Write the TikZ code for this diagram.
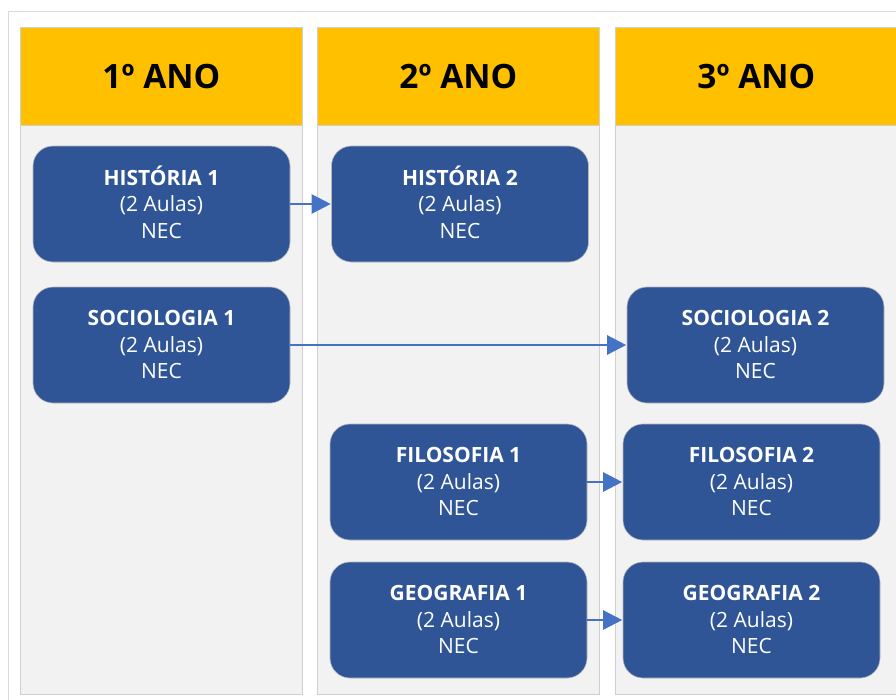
\documentclass[tikz,border=0pt]{standalone}
\usepackage{fontspec}
\setmainfont{Open Sans}
\usetikzlibrary{arrows.meta}
\definecolor{hdryellow}{HTML}{FFC000}
\definecolor{subjblue}{HTML}{2F5597}
\definecolor{linkblue}{HTML}{4472C4}
\definecolor{colfill}{HTML}{F2F2F2}
\definecolor{colline}{HTML}{CFCFCF}
\definecolor{frameline}{HTML}{D9D9D9}
% subject label: bold name, lesson count, group (nudged down, keeping the box size)
\newcommand{\subjlabel}[1]{\raisebox{-2pt}[\height][\depth]{\begin{tabular}{@{}c@{}}\textbf{#1}\\(2 Aulas)\\NEC\end{tabular}}}
\tikzset{
  colbody/.style={draw=colline, fill=colfill, line width=0.8pt, anchor=north west, inner sep=0pt},
  colhead/.style={draw=colline, fill=hdryellow, line width=0.8pt, anchor=north west, inner sep=0pt,
    font=\fontsize{33.5}{38}\selectfont\bfseries, text=black},
  subj/.style={draw=gray!55, fill=subjblue, line width=0.6pt, rounded corners=20pt,
    minimum width=257pt, minimum height=116pt, inner sep=0pt, text=white,
    font=\fontsize{21}{26.5}\selectfont},
  link/.style={draw=linkblue, line width=2.4pt, -{Triangle[length=19pt,width=19pt]}, shorten >=0.5pt}
}
\begin{document}
\begin{tikzpicture}[x=1pt, y=-1pt]
  \useasboundingbox (0,0) rectangle (896,699);
  \clip (0,0) rectangle (896,699);
  % outer frame
  \draw[frameline, line width=1pt] (8,11) rectangle (910,710);
  % year columns
  \node[colbody, minimum width=282pt, minimum height=569pt] (b1) at (20,125) {};
  \node[colbody, minimum width=282pt, minimum height=569pt] (b2) at (317,125) {};
  \node[colbody, minimum width=290pt, minimum height=569pt] (b3) at (615,125) {};
  \node[colhead, minimum width=282pt, minimum height=98pt] (h1) at (20,27) {1º ANO};
  \node[colhead, minimum width=282pt, minimum height=98pt] (h2) at (317,27) {2º ANO};
  \node[colhead, minimum width=282pt, minimum height=98pt] (h3) at (615,27) {3º ANO};
  % subjects
  \node[subj] (hist1) at (161.5,204) {\subjlabel{HISTÓRIA 1}};
  \node[subj] (hist2) at (460,204) {\subjlabel{HISTÓRIA 2}};
  \node[subj] (soc1) at (161.5,345) {\subjlabel{SOCIOLOGIA 1}};
  \node[subj] (soc2) at (755.5,345) {\subjlabel{SOCIOLOGIA 2}};
  \node[subj] (fil1) at (458.5,482) {\subjlabel{FILOSOFIA 1}};
  \node[subj] (fil2) at (751.5,482) {\subjlabel{FILOSOFIA 2}};
  \node[subj] (geo1) at (458.5,620) {\subjlabel{GEOGRAFIA 1}};
  \node[subj] (geo2) at (751.5,620) {\subjlabel{GEOGRAFIA 2}};
  % prerequisites
  \draw[link] (hist1) -- (hist2);
  \draw[link] (soc1) -- (soc2);
  \draw[link] (fil1) -- (fil2);
  \draw[link] (geo1) -- (geo2);
\end{tikzpicture}
\end{document}
